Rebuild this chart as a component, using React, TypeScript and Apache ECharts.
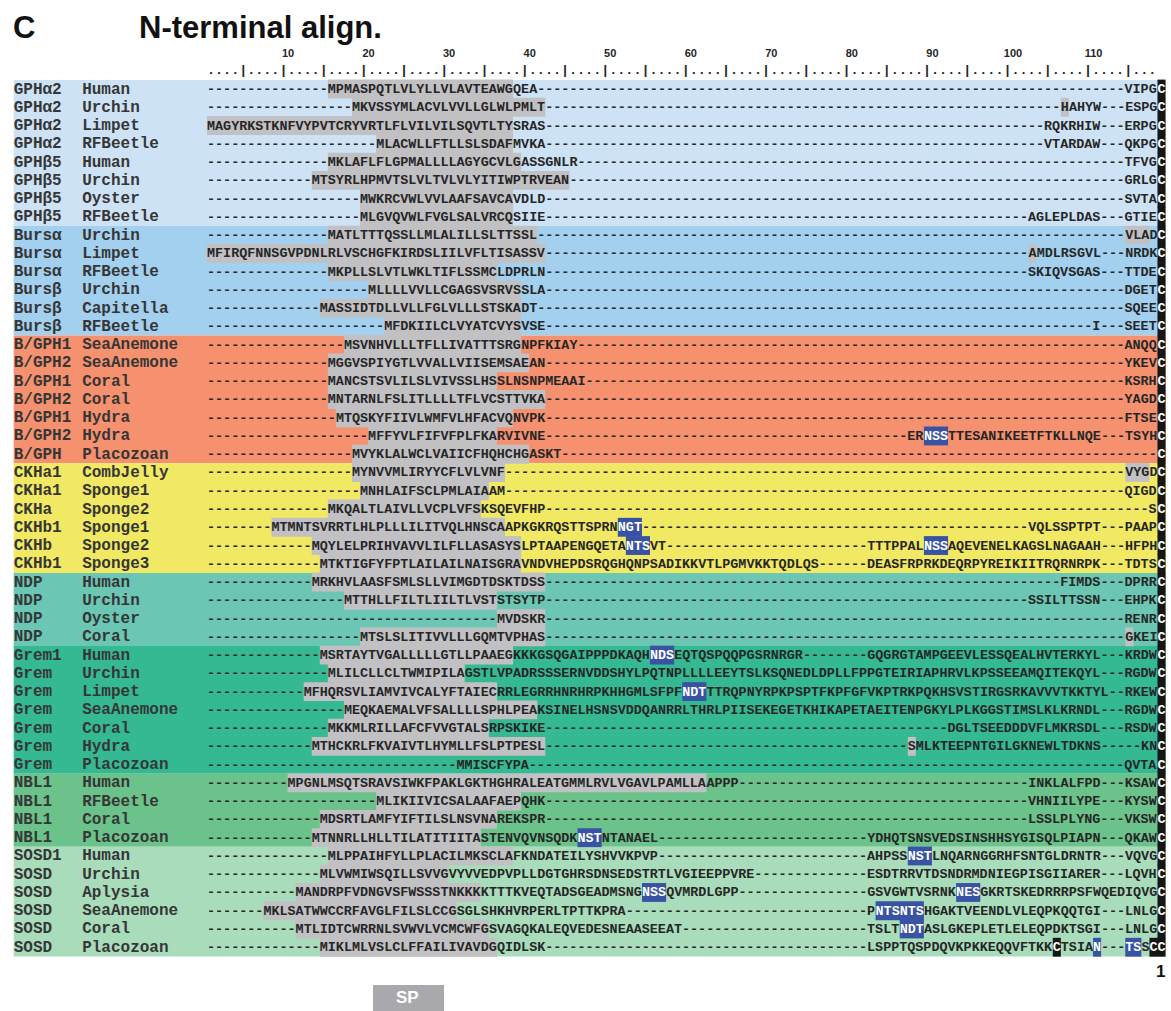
import React, { useEffect, useRef } from "react";
import * as echarts from "echarts";

// ---------- DATA ----------
const FAMILIES = [
  "GPHα2", "GPHα2", "GPHα2", "GPHα2", "GPHβ5", "GPHβ5", "GPHβ5", "GPHβ5",
  "Bursα", "Bursα", "Bursα", "Bursβ", "Bursβ", "Bursβ",
  "B/GPH1", "B/GPH2", "B/GPH1", "B/GPH2", "B/GPH1", "B/GPH2", "B/GPH",
  "CKHa1", "CKHa1", "CKHa", "CKHb1", "CKHb", "CKHb1",
  "NDP", "NDP", "NDP", "NDP",
  "Grem1", "Grem", "Grem", "Grem", "Grem", "Grem", "Grem",
  "NBL1", "NBL1", "NBL1", "NBL1",
  "SOSD1", "SOSD", "SOSD", "SOSD", "SOSD", "SOSD",
];
const SPECIES = [
  "Human", "Urchin", "Limpet", "RFBeetle", "Human", "Urchin", "Oyster", "RFBeetle",
  "Urchin", "Limpet", "RFBeetle", "Urchin", "Capitella", "RFBeetle",
  "SeaAnemone", "SeaAnemone", "Coral", "Coral", "Hydra", "Hydra", "Placozoan",
  "CombJelly", "Sponge1", "Sponge2", "Sponge1", "Sponge2", "Sponge3",
  "Human", "Urchin", "Oyster", "Coral",
  "Human", "Urchin", "Limpet", "SeaAnemone", "Coral", "Hydra", "Placozoan",
  "Human", "RFBeetle", "Coral", "Placozoan",
  "Human", "Urchin", "Aplysia", "SeaAnemone", "Coral", "Placozoan",
];
// group sizes (rows per family block)
const GROUP_SIZES = [8, 6, 7, 6, 4, 7, 4, 6];

// aligned residues: [start column, residues]; all other columns are gaps "-"
const SEQ_SEGMENTS: [number, string][][] = [
  [[16, "MPMASPQTLVLYLLVLAVTEAWGQEA"], [115, "VIPGC"]],
  [[19, "MKVSSYMLACVLVVLLGLWLPMLT"], [107, "HAHYW"], [115, "ESPGC"]],
  [[1, "MAGYRKSTKNFVYPVTCRYVRTLFLVILVILSQVTLTYSRAS"], [105, "RQKRHIW"], [115, "ERPGC"]],
  [[22, "MLACWLLFTLLSLSDAFMVKA"], [105, "VTARDAW"], [115, "QKPGC"]],
  [[16, "MKLAFLFLGPMALLLLAGYGCVLGASSGNLR"], [115, "TFVGC"]],
  [[14, "MTSYRLHPMVTSLVLTVLVLYITIWPTRVEAN"], [115, "GRLGC"]],
  [[20, "MWKRCVWLVVLAAFSAVCAVDLD"], [115, "SVTAC"]],
  [[20, "MLGVQVWLFVGLSALVRCQSIIE"], [103, "AGLEPLDAS"], [115, "GTIEC"]],
  [[16, "MATLTTTQSSLLMLALILLSLTTSSL"], [115, "VLADC"]],
  [[1, "MFIRQFNNSGVPDNLRLVSCHGFKIRDSLIILVFLTISASSV"], [103, "AMDLRSGVL"], [115, "NRDKC"]],
  [[16, "MKPLLSLVTLWKLTIFLSSMCLDPRLN"], [103, "SKIQVSGAS"], [115, "TTDEC"]],
  [[21, "MLLLLVVLLCGAGSVSRVSSLA"], [115, "DGETC"]],
  [[15, "MASSIDTDLLVLLFGLVLLLSTSKADT"], [115, "SQEEC"]],
  [[23, "MFDKIILCLVYATCVYSVSE"], [111, "I"], [115, "SEETC"]],
  [[18, "MSVNHVLLLTFLLIVATTTSRGNPFKIAY"], [115, "ANQQC"]],
  [[16, "MGGVSPIYGTLVVALLVIISEMSAEAN"], [115, "YKEVC"]],
  [[16, "MANCSTSVLILSLVIVSSLHSSLNSNPMEAAI"], [115, "KSRHC"]],
  [[16, "MNTARNLFSLITLLLLTFLVCSTTVKA"], [115, "YAGDC"]],
  [[17, "MTQSKYFIIVLWMFVLHFACVQNVPK"], [115, "FTSEC"]],
  [[21, "MFFYVLFIFVFPLFKARVIVNE"], [88, "ERNSSTTESANIKEETFTKLLNQE"], [115, "TSYHC"]],
  [[19, "MVYKLALWCLVAIICFHQHCHGASKT"], [119, "C"]],
  [[19, "MYNVVMLIRYYCFLVLVNF"], [115, "VYGDC"]],
  [[20, "MNHLAIFSCLPMLAIAAM"], [115, "QIGDC"]],
  [[16, "MKQALTLAIVLLVCPLVFSKSQEVFHP"], [118, "SC"]],
  [[9, "MTMNTSVRRTLHLPLLLILITVQLHNSCAAPKGKRQSTTSPRNNGT"], [103, "VQLSSPTPT"], [115, "PAAPC"]],
  [[14, "MQYLELPRIHVAVVLILFLLASASYSLPTAAPENGQETANTSVT"], [83, "TTTPPALNSSAQEVENELKAGSLNAGAAH"], [115, "HFPHC"]],
  [[15, "MTKTIGFYFPTLAILAILNAISGRAVNDVHEPDSRQGHQNPSADIKKVTLPGMVKKTQDLQS"], [83, "DEASFRPRKDEQRPYREIKIITRQRNRPK"], [115, "TDTSC"]],
  [[14, "MRKHVLAASFSMLSLLVIMGDTDSKTDSS"], [107, "FIMDS"], [115, "DPRRC"]],
  [[18, "MTTHLLFILTLIILTLVSTSTSYTP"], [103, "SSILTTSSN"], [115, "EHPKC"]],
  [[37, "MVDSKR"], [115, "RENRC"]],
  [[20, "MTSLSLITIVVLLLGQMTVPHAS"], [115, "GKEIC"]],
  [[15, "MSRTAYTVGALLLLLGTLLPAAEGKKKGSQGAIPPPDKAQHNDSEQTQSPQQPGSRNRGR"], [83, "GQGRGTAMPGEEVLESSQEALHVTERKYL"], [115, "KRDWC"]],
  [[16, "MLILCLLCLTWMIPILAGSTLVPADRSSSERNVDDSHYLPQTNPLLLLEEYTSLKSQNEDLDPLLFPPGTEIRIAPHRVLKPSSEEAMQITEKQYL"], [115, "RGDWC"]],
  [[13, "MFHQRSVLIAMVIVCALYFTAIECRRLEGRRHNRHRPKHHGMLSFPFNDTTTRQPNYRPKPSPTFKPFGFVKPTRKPQKHSVSTIRGSRKAVVVTKKTYL"], [115, "RKEWC"]],
  [[18, "MEQKAEMALVFSALLLLSPHLPEAKSINELHSNSVDDQANRRLTHRLPIISEKEGETKHIKAPETAEITENPGKYLPLKGGSTIMSLKLKRNDL"], [115, "RGDWC"]],
  [[16, "MKKMLRILLAFCFVVGTALSRPSKIKE"], [93, "DGLTSEEDDDVFLMKRSDL"], [115, "RSDWC"]],
  [[14, "MTHCKRLFKVAIVTLHYMLLFSLPTPESL"], [88, "SMLKTEEPNTGILGKNEWLTDKNS"], [117, "KNC"]],
  [[32, "MMISCFYPA"], [115, "QVTAC"]],
  [[11, "MPGNLMSQTSRAVSIWKFPAKLGKTHGHRALEATGMMLRVLVGAVLPAMLLAAPPP"], [103, "INKLALFPD"], [115, "KSAWC"]],
  [[22, "MLIKIIVICSALAAFAEPQHK"], [103, "VHNIILYPE"], [115, "KYSWC"]],
  [[15, "MDSRTLAMFYIFTILSLNSVNAREKSPR"], [103, "LSSLPLYNG"], [115, "VKSWC"]],
  [[14, "MTNNRLLHLLTILATITIITASTENVQVNSQDKNSTNTANAEL"], [83, "YDHQTSNSVEDSINSHHSYGISQLPIAPN"], [115, "QKAWC"]],
  [[16, "MLPPAIHFYLLPLACILMKSCLAFKNDATEILYSHVVKPVP"], [83, "AHPSSNSTLNQARNGGRHFSNTGLDRNTR"], [115, "VQVGC"]],
  [[15, "MLVWMIWSQILLSVVGVYVVEDPVPLLDGTGHRSDNSEDSTRTLVGIEEPPVRE"], [83, "ESDTRRVTDSNDRMDNIEGPISGIIARER"], [115, "LQVHC"]],
  [[12, "MANDRPFVDNGVSFWSSSTNKKKKTTTKVEQTADSGEADMSNGNSSQVMRDLGPP"], [83, "GSVGWTVSRNKNESGKRTSKEDRRRPSFWQEDIQVGC"]],
  [[8, "MKLSATWWCCRFAVGLFILSLCCGSGLSHKHVRPERLTPTTKPRA"], [83, "PNTSNTSHGAKTVEENDLVLEQPKQQTGI"], [115, "LNLGC"]],
  [[12, "MTLIDTCWRRNLSVWVLVCMCWFGSVAGQKALEQVEDESNEAASEEAT"], [83, "TSLTNDTASLGKEPLETLELEQPDKTSGI"], [115, "LNLGC"]],
  [[15, "MIKLMLVSLCLFFAILIVAVDGQIDLSK"], [83, "LSPPTQSPDQVKPKKEQQVFTKKCTSIAN"], [115, "TSSCC"]],
];

// predicted signal peptide per row: [first column, last column] (gray)
const SIGNAL_PEPTIDE: ([number, number] | null)[] = [
  [16, 38], [19, 42], [1, 38], [22, 38], [16, 39], [14, 45], [20, 38], [20, 38],
  [16, 41], [1, 42], [16, 36], [21, 39], [15, 39], [23, 39],
  [18, 39], [16, 40], [16, 36], [16, 42], [17, 38], [21, 36], [19, 40],
  [19, 37], [20, 35], [16, 34], [9, 37], [14, 39], [15, 39],
  [14, 42], [18, 36], [37, 42], [20, 42],
  [15, 38], [16, 32], [13, 36], [18, 41], [16, 35], [14, 42], null,
  [11, 62], [22, 39], [15, 36], [14, 34],
  [16, 38], [15, 30], [12, 34], [8, 31], [12, 35], [15, 36],
];
// other gray-shaded residues: [row, first column, last column]
const OTHER_GRAY: [number, number, number][] = [
  [1, 107, 107], [8, 115, 117], [9, 103, 103], [21, 115, 117], [30, 115, 115], [36, 88, 88],
];
// N-glycosylation sites (blue): [row, first column, last column]
const GLYCO_SITES: [number, number, number][] = [
  [19, 90, 92], [24, 52, 54], [25, 53, 55], [25, 90, 92], [31, 56, 58], [33, 60, 62],
  [41, 47, 49], [42, 88, 90], [44, 55, 57], [44, 94, 96], [45, 84, 89], [46, 87, 89],
  [47, 111, 111], [47, 115, 116],
];
// cysteines highlighted black: [row, column]; plus the conserved cysteine column
const EXTRA_CYS: [number, number][] = [[47, 106], [47, 118]];
const CONSERVED_CYS_COL = 119;
const N_COLS = 119;
const RULER_TICKS = [10, 20, 30, 40, 50, 60, 70, 80, 90, 100, 110];

// ---------- STYLE / LAYOUT ----------
const GROUP_COLORS = ["#cde3f5", "#a3d0ef", "#f5916f", "#f1e963", "#6bc7b3", "#35b992", "#6cc28b", "#a9dcbb"];
const GRAY = "#c1c1c3";
const BLUE = "#3953a4";
const BLACK = "#161616";
const TEXT = "#262626";
const LABEL = "#363636";
const CW = 8.055; // px per column
const X0 = 207; // left edge of column 1
const RH = 18.26; // row height
const ROW0_TOP = 79.9;
const X_MIN = -24; // family label column
const SPECIES_COL = -15.5;
const Y_MIN = -2;
const MONO = '"Liberation Mono", "DejaVu Sans Mono", monospace';
const SANS = '"Liberation Sans", Arial, Helvetica, sans-serif';

function rowChars(r: number): string[] {
  const chars: string[] = [];
  for (let c = 0; c < N_COLS; c++) chars.push("-");
  for (const [start, s] of SEQ_SEGMENTS[r]) {
    for (let k = 0; k < s.length; k++) chars[start - 1 + k] = s[k];
  }
  return chars;
}
function rowMarks(r: number): string[] {
  const m: string[] = [];
  for (let c = 0; c < N_COLS; c++) m.push("none");
  const sp = SIGNAL_PEPTIDE[r];
  if (sp) for (let c = sp[0]; c <= sp[1]; c++) m[c - 1] = "gray";
  for (const [rr, a, b] of OTHER_GRAY) if (rr === r) for (let c = a; c <= b; c++) m[c - 1] = "gray";
  for (const [rr, a, b] of GLYCO_SITES) if (rr === r) for (let c = a; c <= b; c++) m[c - 1] = "blue";
  for (const [rr, c] of EXTRA_CYS) if (rr === r) m[c - 1] = "black";
  m[CONSERVED_CYS_COL - 1] = "black";
  return m;
}

export default function App() {
  const ref = useRef<HTMLDivElement>(null);
  useEffect(() => {
    if (!ref.current) return;
    const chart = echarts.init(ref.current, null, { renderer: "svg" });
    const nRows = FAMILIES.length;
    const gridLeft = X0 + X_MIN * CW;
    const gridTop = ROW0_TOP + Y_MIN * RH;

    const groupData: number[][] = [];
    let acc = 0;
    GROUP_SIZES.forEach((n, gi) => {
      groupData.push([acc, acc + n, gi]);
      acc += n;
    });

    const fontSize = CW / 0.6;

    const option: any = {
      animation: false,
      grid: { left: gridLeft, top: gridTop, width: (N_COLS - X_MIN) * CW, height: (nRows - Y_MIN) * RH },
      xAxis: { type: "value", min: X_MIN, max: N_COLS, show: false },
      yAxis: { type: "value", min: Y_MIN, max: nRows, inverse: true, show: false },
      series: [
        {
          type: "custom",
          z: 1,
          silent: true,
          data: groupData,
          renderItem: (params: any, api: any) => {
            const a = api.coord([X_MIN, api.value(0)]);
            const b = api.coord([N_COLS, api.value(1)]);
            return {
              type: "rect",
              shape: { x: a[0], y: a[1], width: b[0] - a[0], height: b[1] - a[1] },
              style: { fill: GROUP_COLORS[api.value(2)] },
            };
          },
        },
        {
          type: "custom",
          z: 2,
          silent: true,
          data: FAMILIES.map((_, i) => [i]),
          renderItem: (params: any, api: any) => {
            const r = api.value(0);
            const a = api.coord([0, r]);
            const b = api.coord([1, r + 1]);
            const rh = b[1] - a[1];
            const cy = a[1] + rh / 2 + 0.5;
            const chars = rowChars(r);
            const marks = rowMarks(r);
            const children: any[] = [];
            const fx = api.coord([X_MIN, r])[0];
            const sx = api.coord([SPECIES_COL, r])[0];
            children.push({
              type: "text",
              style: { x: fx, y: cy, text: FAMILIES[r], fill: LABEL, fontFamily: MONO, fontWeight: "bold", fontSize: 16, align: "left", verticalAlign: "middle" },
            });
            children.push({
              type: "text",
              style: { x: sx, y: cy, text: SPECIES[r], fill: LABEL, fontFamily: MONO, fontWeight: "bold", fontSize: 16, align: "left", verticalAlign: "middle" },
            });
            let i = 0;
            while (i < N_COLS) {
              let j = i;
              while (j + 1 < N_COLS && marks[j + 1] === marks[i]) j++;
              const x = api.coord([i, r])[0];
              const x2 = api.coord([j + 1, r])[0];
              const mk = marks[i];
              if (mk !== "none") {
                children.push({
                  type: "rect",
                  shape: { x: x, y: a[1] - 0.3, width: x2 - x, height: rh + 0.6 },
                  style: { fill: mk === "gray" ? GRAY : mk === "blue" ? BLUE : BLACK },
                });
              }
              children.push({
                type: "text",
                style: {
                  x: x,
                  y: cy,
                  text: chars.slice(i, j + 1).join(""),
                  fill: mk === "blue" || mk === "black" ? "#ffffff" : TEXT,
                  fontFamily: MONO,
                  fontWeight: "bold",
                  fontSize: fontSize,
                  align: "left",
                  verticalAlign: "middle",
                },
              });
              i = j + 1;
            }
            return { type: "group", children };
          },
        },
        {
          type: "custom",
          z: 3,
          silent: true,
          data: [[0]],
          renderItem: (params: any, api: any) => {
            const children: any[] = [];
            const a = api.coord([0, -1]);
            const b = api.coord([1, 0]);
            const rh = b[1] - a[1];
            let ruler = "";
            for (let c = 1; c < N_COLS; c++) ruler += c % 5 === 0 ? "|" : ".";
            children.push({
              type: "text",
              style: { x: a[0], y: a[1] + rh / 2, text: ruler, fill: TEXT, fontFamily: MONO, fontWeight: "bold", fontSize: fontSize, align: "left", verticalAlign: "middle" },
            });
            for (const t of RULER_TICKS) {
              const p = api.coord([t - 0.5, -1.5]);
              children.push({
                type: "text",
                style: { x: p[0] + 4.5, y: p[1], text: String(t), fill: TEXT, fontFamily: SANS, fontWeight: "bold", fontSize: 11, align: "center", verticalAlign: "middle" },
              });
            }
            return { type: "group", children };
          },
        },
      ],
      graphic: [
        { type: "text", left: 13, top: 12, style: { text: "C", fill: "#111", font: `bold 31px ${SANS}` } },
        { type: "text", left: 139, top: 12, style: { text: "N-terminal align.", fill: "#111", font: `bold 31px ${SANS}` } },
        { type: "rect", left: 373, top: 985, shape: { width: 71, height: 26 }, style: { fill: "#a9a9ad" } },
        { type: "text", left: 396, top: 989, style: { text: "SP", fill: "#ffffff", font: `bold 17px ${SANS}` } },
        { type: "text", left: 1156, top: 963, style: { text: "1", fill: "#111", font: `bold 17px ${SANS}` } },
      ],
    };
    chart.setOption(option);
    return () => chart.dispose();
  }, []);
  return <div ref={ref} style={{ position: "absolute", left: 0, top: 0, width: 1171, height: 1011, background: "#fff" }} />;
}
